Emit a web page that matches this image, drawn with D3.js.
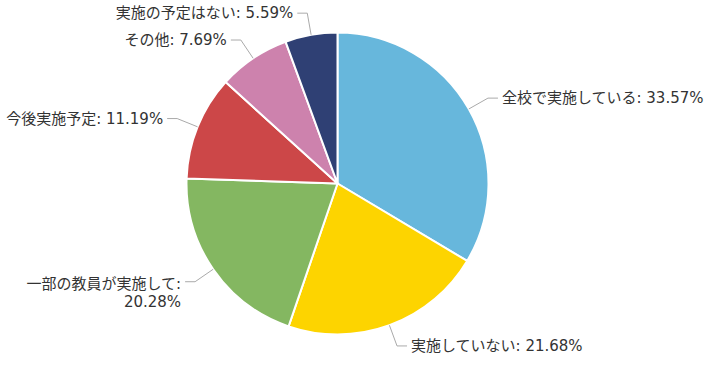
<!DOCTYPE html>
<html><head><meta charset="utf-8">
<script src="https://cdn.jsdelivr.net/npm/d3@7"></script>
<style>body{margin:0;background:#fff}svg{display:block}</style>
</head><body>
<svg id="c" width="720" height="365"></svg>
<script>
const categories = ["全校で実施している","実施していない","一部の教員が実施して","今後実施予定","その他","実施の予定はない"];
const values = [33.57, 21.68, 20.28, 11.19, 7.69, 5.59];
const colors = ["#67b7dc","#fdd400","#84b761","#cc4748","#cd82ad","#2f4074"];

const svg = d3.select("#c");
const cx = 337.5, cy = 183.5, R = 151;
const g = svg.append("g").attr("transform", `translate(${cx},${cy})`);
const data = categories.map((c,i)=>({name:c, value:values[i], color:colors[i]}));
const pie = d3.pie().value(d=>d.value).sort(null);
const arcs = pie(data);
const arc = d3.arc().innerRadius(0).outerRadius(R);

g.selectAll("path.s").data(arcs).join("path")
  .attr("class","s").attr("d",arc)
  .attr("fill",d=>d.data.color)
  .attr("stroke","#fff").attr("stroke-width",2).attr("stroke-linejoin","round");

const len1 = 22, len2 = 10, gap = 4, fs = 15;
const font = "'DejaVu Sans', 'Noto Sans CJK JP', sans-serif";
arcs.forEach(a=>{
  const m = (a.startAngle + a.endAngle)/2;
  const sx = Math.sin(m), sy = -Math.cos(m);
  const p0 = [R*sx, R*sy];
  const p1 = [(R+len1)*sx, (R+len1)*sy];
  const right = sx >= 0;
  const p2 = [p1[0] + (right?len2:-len2), p1[1]];
  g.append("polyline").attr("points",[p0,p1,p2].map(p=>p.join(",")).join(" "))
    .attr("fill","none").attr("stroke","#aaa").attr("stroke-width",1);
  const label = `${a.data.name}: ${a.data.value.toFixed(2)}%`;
  const tx = p2[0] + (right?gap:-gap);
  const mk = (txt, y) => g.append("text")
    .attr("font-family",font).attr("font-size",fs).attr("fill","#333")
    .attr("text-anchor", right?"start":"end")
    .attr("x", tx).attr("y", y).attr("dy","0.35em").text(txt);
  const t = mk(label, p2[1]);
  const w = t.node().getComputedTextLength();
  const avail = right ? (720 - (cx + tx)) : (cx + tx);
  if (w > avail - 4) {
    t.remove();
    mk(a.data.name + ":", p2[1] + 2.5);
    mk(a.data.value.toFixed(2) + "%", p2[1] + 20.5);
  }
});
</script>
</body></html>
